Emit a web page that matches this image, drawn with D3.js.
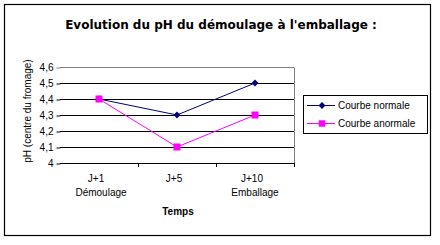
<!DOCTYPE html>
<html>
<head>
<meta charset="utf-8">
<script src="https://cdn.jsdelivr.net/npm/d3@7"></script>
<style>
  body { margin: 0; background: #fff; }
  svg { display: block; }
</style>
</head>
<body>
<div id="chart"></div>
<script>
// data
const categories = ["J+1", "J+5", "J+10"];
const subLabels = ["Démoulage", "", "Emballage"];
const normale = [4.4, 4.3, 4.5];
const anormale = [4.4, 4.1, 4.3];
const yTicks = [4, 4.1, 4.2, 4.3, 4.4, 4.5, 4.6];

const width = 440, height = 245;
const plot = { left: 60, right: 294, top: 67, bottom: 163 };

const svg = d3.select("#chart").append("svg")
  .attr("width", width)
  .attr("height", height);

// outer frame
svg.append("rect")
  .attr("x", 4.5).attr("y", 4.5)
  .attr("width", 426).attr("height", 231)
  .attr("fill", "none")
  .attr("stroke", "#000")
  .attr("stroke-width", 1.2);

svg.append("text")
  .attr("x", 221).attr("y", 29)
  .attr("text-anchor", "middle")
  .style("font-family", "DejaVu Sans")
  .style("font-weight", "bold")
  .style("font-size", "12px")
  .text("Evolution du pH du démoulage à l'emballage :");

const x = d3.scalePoint().domain(categories).range([plot.left, plot.right]).padding(0.5);
const y = d3.scaleLinear().domain([4, 4.6]).range([plot.bottom, plot.top]);

// gridlines
svg.append("g")
  .selectAll("line")
  .data(yTicks)
  .enter()
  .append("line")
  .attr("x1", plot.left).attr("x2", plot.right)
  .attr("y1", d => Math.round(y(d)) + 0.5)
  .attr("y2", d => Math.round(y(d)) + 0.5)
  .attr("stroke", d => (d === 4.6 ? "#808080" : "#000"))
  .attr("stroke-width", 1);

// right border of plot area
svg.append("line")
  .attr("x1", plot.right + 0.5).attr("x2", plot.right + 0.5)
  .attr("y1", plot.top + 0.5).attr("y2", plot.bottom)
  .attr("stroke", "#808080");

// y axis (ticks + labels, no visible spine)
const yAxis = svg.append("g")
  .attr("transform", `translate(${plot.left + 0.5},0.5)`)
  .call(d3.axisLeft(y).tickValues(yTicks).tickSize(4).tickFormat(d => d3.format(".1f")(d).replace(".", ",").replace(",0", "")));
yAxis.select(".domain").remove();
yAxis.selectAll("line").attr("stroke", d => (d === 4.6 ? "#808080" : "#000"));
yAxis.selectAll("text")
  .style("font-family", "Liberation Sans, Arial")
  .style("font-size", "10px")
  .attr("fill", "#000");

// x axis with ticks between categories
const step = x.step();
svg.append("line")
  .attr("x1", plot.left).attr("x2", plot.right + 1)
  .attr("y1", plot.bottom + 0.5).attr("y2", plot.bottom + 0.5)
  .attr("stroke", "#000");
svg.append("g")
  .selectAll("line")
  .data(categories)
  .enter()
  .append("line")
  .attr("x1", d => Math.round(x(d) + step / 2) + 0.5)
  .attr("x2", d => Math.round(x(d) + step / 2) + 0.5)
  .attr("y1", plot.bottom).attr("y2", plot.bottom + 4)
  .attr("stroke", "#000");

const xl = svg.append("g")
  .style("font-family", "Liberation Sans, Arial")
  .style("font-size", "10px")
  .attr("text-anchor", "middle");
xl.selectAll("text.cat")
  .data(categories)
  .enter()
  .append("text")
  .attr("class", "cat")
  .attr("x", d => x(d) - 3)
  .attr("y", 182)
  .text(d => d);
xl.selectAll("text.sub")
  .data(categories)
  .enter()
  .append("text")
  .attr("class", "sub")
  .attr("x", (d, i) => x(d) + (i === 0 ? 2 : 0))
  .attr("y", 196)
  .text((d, i) => subLabels[i]);

svg.append("text")
  .attr("x", 178).attr("y", 215)
  .attr("text-anchor", "middle")
  .style("font-family", "Liberation Sans, Arial")
  .style("font-weight", "bold")
  .style("font-size", "10px")
  .text("Temps");

svg.append("text")
  .attr("transform", "translate(31,111) rotate(-90)")
  .attr("text-anchor", "middle")
  .style("font-family", "Liberation Sans, Arial")
  .style("font-size", "10px")
  .text("pH (centre du fromage)");

// series
const line = d3.line().x((d, i) => x(categories[i])).y(d => y(d));

svg.append("path")
  .datum(normale)
  .attr("d", line)
  .attr("fill", "none")
  .attr("stroke", "#000080")
  .attr("stroke-width", 1);
svg.append("g")
  .selectAll("path")
  .data(normale)
  .enter()
  .append("path")
  .attr("d", d3.symbol(d3.symbolDiamond2, 30))
  .attr("transform", (d, i) => `translate(${x(categories[i])},${y(d)})`)
  .attr("fill", "#000080");

svg.append("path")
  .datum(anormale)
  .attr("d", line)
  .attr("fill", "none")
  .attr("stroke", "#ff00ff")
  .attr("stroke-width", 1);
svg.append("g")
  .selectAll("rect")
  .data(anormale)
  .enter()
  .append("rect")
  .attr("x", (d, i) => x(categories[i]) - 3.5)
  .attr("y", d => y(d) - 3.5)
  .attr("width", 7).attr("height", 7)
  .attr("fill", "#ff00ff");

// legend
const lg = svg.append("g").attr("transform", "translate(303,95)");
lg.append("rect")
  .attr("x", 0.5).attr("y", 0.5)
  .attr("width", 124).attr("height", 38)
  .attr("fill", "#fff")
  .attr("stroke", "#000");
const legendItems = [
  { name: "Courbe normale", color: "#000080", shape: "diamond" },
  { name: "Courbe anormale", color: "#ff00ff", shape: "square" }
];
const li = lg.selectAll("g.item")
  .data(legendItems)
  .enter()
  .append("g")
  .attr("transform", (d, i) => `translate(0,${10 + i * 18})`);
li.append("line")
  .attr("x1", 4).attr("x2", 32)
  .attr("y1", 0.5).attr("y2", 0.5)
  .attr("stroke", d => d.color);
li.append("path")
  .attr("transform", "translate(19,0.5)")
  .attr("d", d => d.shape === "diamond" ? d3.symbol(d3.symbolDiamond2, 30)() : d3.symbol(d3.symbolSquare, 42)())
  .attr("fill", d => d.color);
li.append("text")
  .attr("x", 35).attr("y", 4)
  .style("font-family", "Liberation Sans, Arial")
  .style("font-size", "10px")
  .text(d => d.name);
</script>
</body>
</html>
